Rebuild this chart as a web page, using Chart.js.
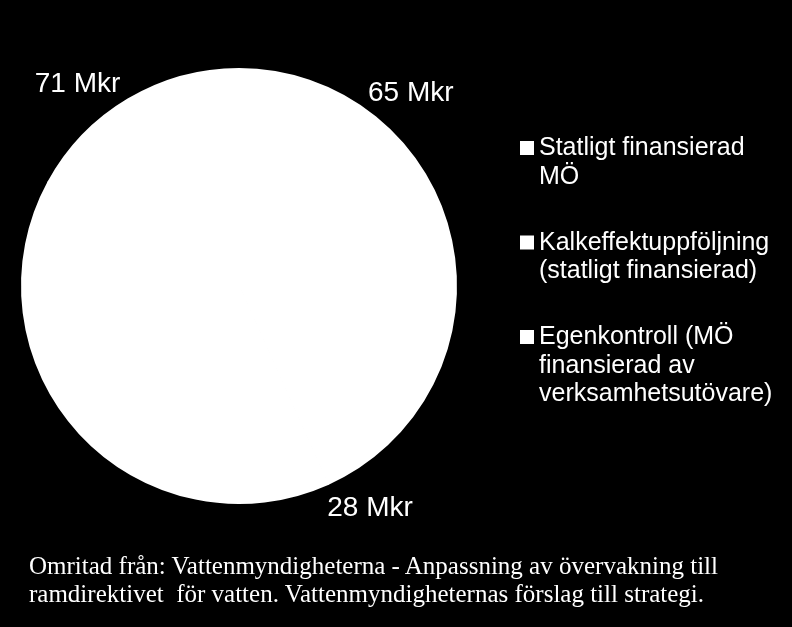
<!DOCTYPE html>
<html>
<head>
<meta charset="utf-8">
<script src="https://cdn.jsdelivr.net/npm/chart.js@4"></script>
<style>
  html, body { margin: 0; padding: 0; background: #000; }
  .wrap { position: relative; width: 792px; height: 627px; background: #000; overflow: hidden; }
  #myChart { position: absolute; left: 0; top: 0; }
  .source {
    position: absolute; left: 29px; top: 552px;
    font-family: 'Liberation Serif', 'Times New Roman', serif;
    font-size: 25px; line-height: 28px; color: #fff; white-space: nowrap;
  }
</style>
</head>
<body>
<div class="wrap">
  <canvas id="myChart" width="792" height="560"></canvas>
  <div class="source">Omritad från: Vattenmyndigheterna - Anpassning av övervakning till<br>ramdirektivet&nbsp; för vatten. Vattenmyndigheternas förslag till strategi.</div>
</div>
<script>
'use strict'

const categories = [
    ['Statligt finansierad', 'MÖ'],
    ['Kalkeffektuppföljning', '(statligt finansierad)'],
    ['Egenkontroll (MÖ', 'finansierad av', 'verksamhetsutövare)']
];
const values = [71, 65, 28];
const valueLabels = ['71 Mkr', '65 Mkr', '28 Mkr'];

// where the value labels sit round the pie (degrees clockwise from 12 o'clock)
const labelAngles = [-38.7, 41.7, 149.5];

const ctx = document.getElementById('myChart');

const valueLabelPlugin = {
    id: 'valueLabels',
    afterDatasetsDraw(chart){
        const arc = chart.getDatasetMeta(0).data[0];
        if(!arc) return;
        const c = chart.ctx;
        c.save();
        c.fillStyle = '#fff';
        c.font = '28px "Liberation Sans", Arial, sans-serif';
        c.textAlign = 'center';
        c.textBaseline = 'middle';
        valueLabels.forEach((txt, i) => {
            const a = labelAngles[i] * Math.PI / 180;
            const d = arc.outerRadius * 1.19;
            c.fillText(txt, arc.x + Math.sin(a) * d, arc.y - Math.cos(a) * d);
        });
        c.restore();
    }
};

const sideLegendPlugin = {
    id: 'sideLegend',
    afterDraw(chart){
        const c = chart.ctx;
        const left = 520, top = 141, box = 14, step = 94.5, lineH = 28.5;
        c.save();
        c.font = '25px "Liberation Sans", Arial, sans-serif';
        c.textBaseline = 'alphabetic';
        c.textAlign = 'left';
        chart.data.labels.forEach((lines, i) => {
            const y = top + i * step;
            c.fillStyle = chart.data.datasets[0].backgroundColor[i];
            c.fillRect(left, y, box, box);
            c.fillStyle = '#fff';
            lines.forEach((line, j) => {
                c.fillText(line, left + 19, y + 14 + j * lineH);
            });
        });
        c.restore();
    }
};

new Chart(ctx, {
    type: 'pie',
    data: {
        labels: categories,
        datasets: [{
            data: values,
            backgroundColor: ['#ffffff', '#ffffff', '#ffffff'],
            borderColor: '#ffffff',
            borderWidth: 2,
            borderJoinStyle: 'round'
        }]
    },
    options: {
        responsive: false,
        animation: false,
        layout: {
            padding: { left: 21, top: 68, right: 335, bottom: 56 }
        },
        plugins: {
            legend: { display: false },
            tooltip: { enabled: false }
        }
    },
    plugins: [valueLabelPlugin, sideLegendPlugin]
});
</script>
</body>
</html>
